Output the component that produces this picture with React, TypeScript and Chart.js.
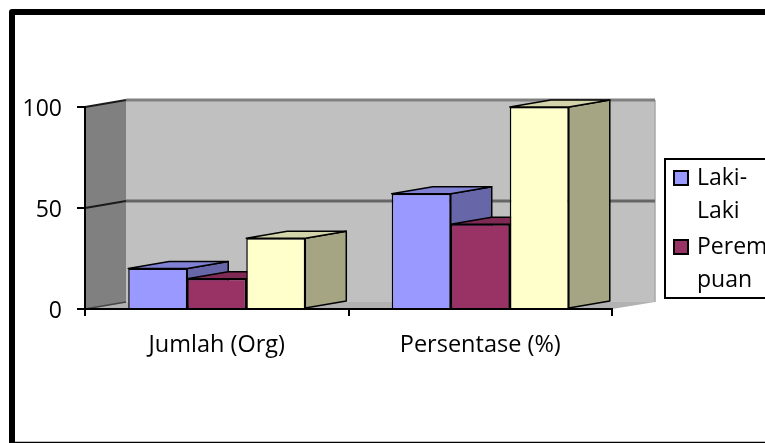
import React, { useEffect, useRef } from "react";
import { Chart, registerables } from "chart.js";

Chart.register(...registerables);

const categories = ["Jumlah (Org)", "Persentase (%)"];
const lakiLaki = [20, 57];
const perempuan = [15, 42];
const jumlah = [35, 100];
const yTicks = [0, 50, 100];
const legendRows = [
  { lines: ["Laki-", "Laki"], color: "#9999ff" },
  { lines: ["Perem", "puan"], color: "#993366" },
];

const FONT = "'Open Sans'";
const DEPTH_X = 41;
const DEPTH_Y = -7;

const faceColors = [
  { top: "#8080d4", side: "#6666a8" },
  { top: "#7f2a55", side: "#662244" },
  { top: "#d4d4aa", side: "#a5a583" },
];

function poly(ctx: CanvasRenderingContext2D, pts: number[][], fill: string | null, stroke?: string, lw = 2) {
  ctx.beginPath();
  pts.forEach(([x, y], i) => (i ? ctx.lineTo(x, y) : ctx.moveTo(x, y)));
  ctx.closePath();
  if (fill) {
    ctx.fillStyle = fill;
    ctx.fill();
  }
  if (stroke) {
    ctx.strokeStyle = stroke;
    ctx.lineWidth = lw;
    ctx.lineJoin = "round";
    ctx.stroke();
  }
}

function line(ctx: CanvasRenderingContext2D, x1: number, y1: number, x2: number, y2: number, color: string, lw: number) {
  ctx.beginPath();
  ctx.moveTo(x1, y1);
  ctx.lineTo(x2, y2);
  ctx.strokeStyle = color;
  ctx.lineWidth = lw;
  ctx.stroke();
}

// Outer frame, box walls, floor and gridlines sit behind the axes.
const wallsPlugin = {
  id: "walls",
  beforeDraw(chart: any) {
    const { ctx, chartArea: a, scales } = chart;
    const y = scales.y;
    const top = y.getPixelForValue(100);
    const bottom = y.getPixelForValue(0);
    ctx.save();
    ctx.strokeStyle = "#000";
    ctx.lineWidth = 6;
    ctx.lineJoin = "round";
    ctx.strokeRect(12, 12, 900, 432.7);

    const dx = DEPTH_X;
    const dy = DEPTH_Y;
    const backRight = a.right + 43;
    poly(ctx, [[a.left + dx, top + dy], [backRight, top + dy], [backRight, bottom + dy], [a.left + dx, bottom + dy]], "#c0c0c0");
    poly(ctx, [[a.left, top], [a.left + dx, top + dy], [a.left + dx, bottom + dy], [a.left, bottom]], "#808080");
    poly(ctx, [[a.left, bottom], [a.left + dx, bottom + dy], [backRight, bottom + dy], [a.right, bottom]], "#b2b2b2");
    line(ctx, backRight, top + dy, backRight, bottom + dy, "#a8a8a8", 1.5);
    yTicks.filter((v) => v > 0).forEach((v) => {
      const py = y.getPixelForValue(v);
      line(ctx, a.left + dx, py + dy, backRight, py + dy, v === 100 ? "#808080" : "#666666", 3);
      line(ctx, a.left, py, a.left + dx, py + dy, "#1a1a1a", 2);
    });
    line(ctx, a.left, bottom, a.left + dx, bottom + dy, "#444", 1.5);
    ctx.restore();
  },
};

// Extrudes each bar backwards, then lets the controller paint its front face,
// going through the series left to right so nearer bars cover farther faces.
const extrudePlugin = {
  id: "extrude",
  beforeDatasetsDraw(chart: any) {
    const { ctx } = chart;
    chart.getSortedVisibleDatasetMetas().forEach((meta: any) => {
      const faces = faceColors[meta.index];
      ctx.save();
      meta.data.forEach((bar: any) => {
        const { x, y, base, width } = bar.getProps(["x", "y", "base", "width"], true);
        const l = x - width / 2;
        const r = x + width / 2;
        poly(ctx, [[r, y], [r + DEPTH_X, y + DEPTH_Y], [r + DEPTH_X, base + DEPTH_Y], [r, base]], faces.side, "#000", 1.5);
        poly(ctx, [[l, y], [l + DEPTH_X, y + DEPTH_Y], [r + DEPTH_X, y + DEPTH_Y], [r, y]], faces.top, "#000", 1.5);
      });
      ctx.restore();
      meta.controller.draw();
    });
    return false;
  },
};

// Legend box runs off the right edge of the canvas, so its text is cut short.
const legendPlugin = {
  id: "sideLegend",
  afterDraw(chart: any) {
    const { ctx } = chart;
    ctx.save();
    ctx.fillStyle = "#fff";
    ctx.strokeStyle = "#000";
    ctx.lineWidth = 2;
    ctx.fillRect(665, 159, 140, 139);
    ctx.strokeRect(665, 159, 140, 139);
    ctx.font = `23px ${FONT}`;
    ctx.textBaseline = "middle";
    const rowY = [178, 247];
    legendRows.forEach((row, i) => {
      ctx.fillStyle = row.color;
      ctx.fillRect(674, rowY[i] - 7, 14, 14);
      ctx.strokeStyle = "#000";
      ctx.lineWidth = 2;
      ctx.strokeRect(674, rowY[i] - 7, 14, 14);
      ctx.fillStyle = "#000";
      row.lines.forEach((text, j) => ctx.fillText(text, 697, rowY[i] + j * 33));
    });
    ctx.restore();
  },
};

export default function App() {
  const ref = useRef<HTMLCanvasElement>(null);

  useEffect(() => {
    const chart = new Chart(ref.current!, {
      type: "bar",
      data: {
        labels: categories,
        datasets: [
          { label: "Laki-Laki", data: lakiLaki, backgroundColor: "#9999ff" },
          { label: "Perempuan", data: perempuan, backgroundColor: "#993366" },
          { label: "Jumlah", data: jumlah, backgroundColor: "#ffffcc" },
        ],
      },
      options: {
        responsive: false,
        animation: false,
        devicePixelRatio: 1,
        layout: { padding: { left: 0, top: 107, right: 153, bottom: 0 } },
        datasets: {
          bar: {
            categoryPercentage: 0.672,
            barPercentage: 1,
            borderColor: "#000",
            borderWidth: 1.5,
          },
        },
        plugins: { legend: { display: false }, tooltip: { enabled: false }, title: { display: false } },
        scales: {
          x: {
            afterFit: (s: any) => {
              s.height = 134;
            },
            grid: { drawOnChartArea: false, drawTicks: true, tickLength: 7, color: "#000", lineWidth: 2 },
            border: { color: "#000", width: 2 },
            ticks: { color: "#000", font: { family: "Open Sans", size: 23.5 }, padding: 15, maxRotation: 0 },
          },
          y: {
            min: 0,
            max: 100,
            afterBuildTicks: (s: any) => {
              s.ticks = yTicks.map((value) => ({ value }));
            },
            afterFit: (s: any) => {
              s.width = 85;
            },
            grid: { drawOnChartArea: false, drawTicks: true, tickLength: 8, color: "#000", lineWidth: 2 },
            border: { color: "#000", width: 2 },
            ticks: { color: "#000", font: { family: "Open Sans", size: 23 }, padding: 15, labelOffset: 2.5 },
          },
        },
      } as any,
      plugins: [wallsPlugin, extrudePlugin, legendPlugin],
    });
    return () => chart.destroy();
  }, []);

  return (
    <canvas
      ref={ref}
      width={765}
      height={443}
      style={{ position: "absolute", left: 0, top: 0, display: "block" }}
    />
  );
}
